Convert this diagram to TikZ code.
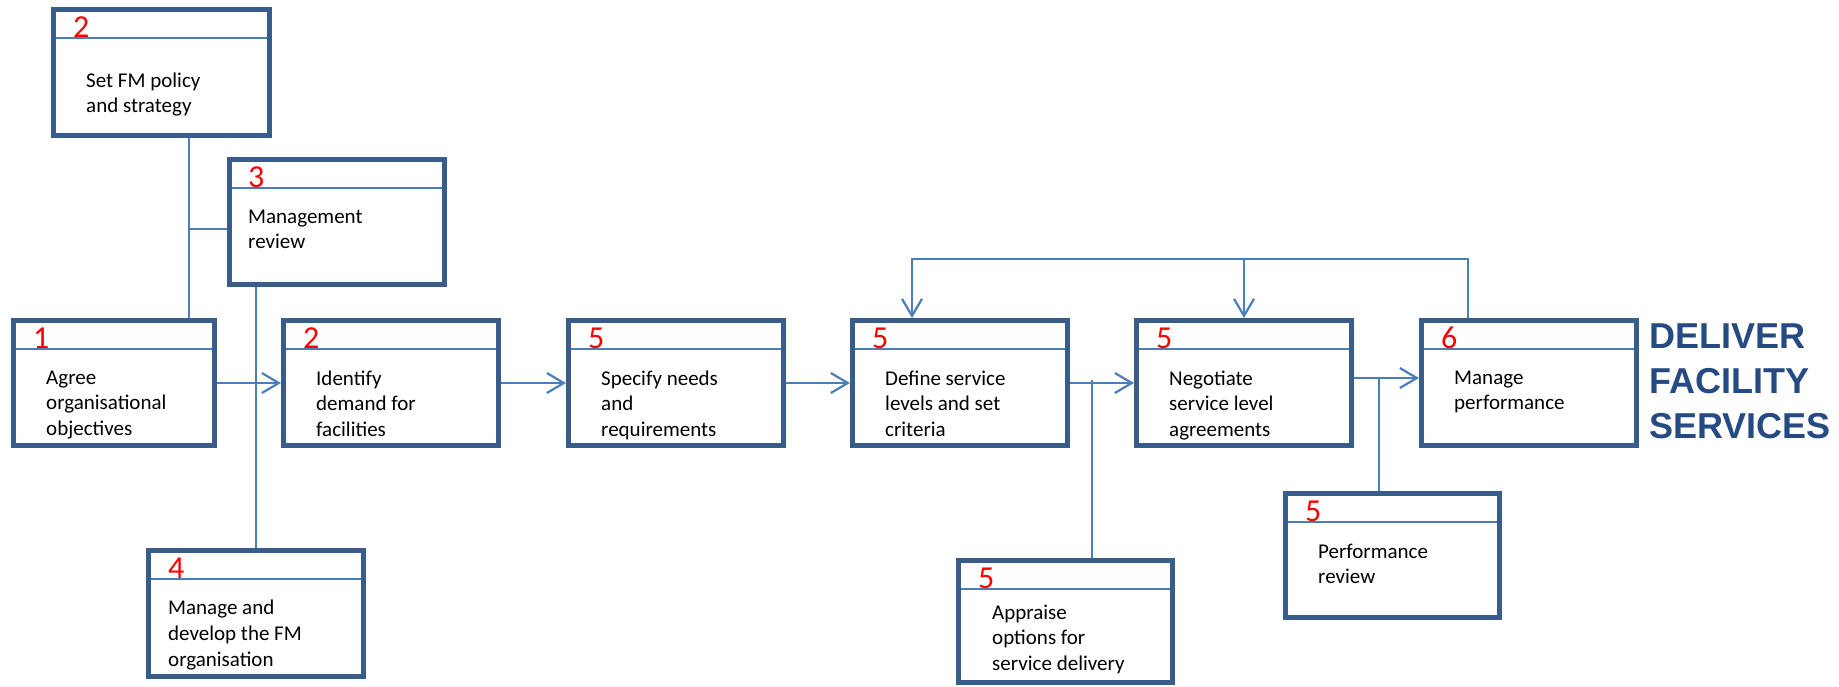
\documentclass[tikz,border=0pt]{standalone}
\usepackage{fontspec}
\setmainfont{Carlito}
\newfontfamily\headfont{Liberation Sans}
\usetikzlibrary{arrows.meta}
\definecolor{boxblue}{RGB}{56,93,138}
\definecolor{lineblue}{RGB}{74,126,187}
\definecolor{headblue}{RGB}{37,75,130}

\begin{document}
\begin{tikzpicture}[x=1pt,y=-1pt]
        \tikzstyle{box} = [draw=boxblue, line width=5pt, inner sep=0pt, anchor=north west, minimum width=215pt, minimum height=125pt,
            path picture={\draw[lineblue, line width=2pt] ([yshift=-28.5pt]path picture bounding box.north west) -- ([yshift=-28.5pt]path picture bounding box.north east);}]
        \tikzstyle{num} = [anchor=base west, inner sep=0pt, text=red, font=\fontsize{32}{32}\selectfont]
        \tikzstyle{txt} = [anchor=north west, inner sep=0pt, align=left, font=\fontsize{21}{25.7}\selectfont]
        \tikzstyle{link} = [lineblue, line width=2.2pt]
        \tikzstyle{arrow} = [link, -{Straight Barb[length=17pt, width=20pt]}]
        \useasboundingbox (0,0) rectangle (1839,686);
        % First box of the row is a bit narrower
        \node[box, minimum width=201pt] (agree) at (11,318) {};
        \node[num] (agree-num) at ([shift={(22pt,-30pt)}]agree.north west) {1};
        \node[txt] (agree-txt) at ([shift={(35pt,-52.5pt)}]agree.north west) {Agree\\organisational\\objectives};
        % The other boxes of the main row
        \foreach \name/\x/\n/\t in {identify/281/2/{Identify\\demand for\\facilities},
                                    specify/566/5/{Specify needs\\and\\requirements},
                                    define/850/5/{Define service\\levels and set\\criteria},
                                    negotiate/1134/5/{Negotiate\\service level\\agreements},
                                    perform/1419/6/{Manage\\performance}} {
            \node[box] (\name) at (\x,318) {};
            \node[num] (\name-num) at ([shift={(22pt,-30pt)}]\name.north west) {\n};
            \node[txt] (\name-txt) at ([shift={(35pt,-52.5pt)}]\name.north west) {\t};
        }
        % Policy and review boxes above the row
        \node[box, minimum width=216pt, minimum height=126pt] (policy) at (51,7) {};
        \node[num] (policy-num) at ([shift={(22pt,-30pt)}]policy.north west) {2};
        \node[txt] (policy-txt) at ([shift={(35pt,-65.5pt)}]policy.north west) {Set FM policy\\and strategy};
        \node[box] (review) at (227,157) {};
        \node[num] (review-num) at ([shift={(21pt,-30pt)}]review.north west) {3};
        \node[txt] (review-txt) at ([shift={(21pt,-52.5pt)}]review.north west) {Management\\review};
        % Boxes below the row
        \node[box, minimum height=126pt] (develop) at (146,548) {};
        \node[num] (develop-num) at ([shift={(22pt,-30pt)}]develop.north west) {4};
        \node[txt] (develop-txt) at ([shift={(22pt,-52pt)}]develop.north west) {Manage and\\develop the FM\\organisation};
        \node[box, minimum width=214pt, minimum height=122pt] (appraise) at (956,558) {};
        \node[num] (appraise-num) at ([shift={(22pt,-30pt)}]appraise.north west) {5};
        \node[txt] (appraise-txt) at ([shift={(36pt,-46.5pt)}]appraise.north west) {Appraise\\options for\\service delivery};
        \node[box, minimum width=214pt, minimum height=124pt] (perfreview) at (1283,491) {};
        \node[num] (perfreview-num) at ([shift={(22pt,-30pt)}]perfreview.north west) {5};
        \node[txt] (perfreview-txt) at ([shift={(35pt,-52.5pt)}]perfreview.north west) {Performance\\review};
        % Heading on the right
        \node[anchor=north west, inner sep=0pt, align=left, text=headblue, font=\headfont\bfseries\fontsize{36}{45}\selectfont] (deliver) at (1649,324) {DELIVER\\FACILITY\\SERVICES};
        % Lines from the policy and review boxes
        \coordinate (policyjoin) at (189,229);
        \draw[link] (policy.south -| policyjoin) -- (agree.north -| policyjoin);
        \draw[link] (policyjoin) -- (policyjoin -| review.west);
        \draw[link] (review.south -| develop.north) -- (develop.north);
        % Arrows along the row
        \draw[arrow] (agree.east) -- (identify.west);
        \draw[arrow] (identify.east) -- (specify.west);
        \draw[arrow] (specify.east) -- (define.west);
        \draw[arrow] (define.east) -- (negotiate.west);
        \draw[arrow] ([yshift=5pt]negotiate.east) -- ([yshift=5pt]perform.west);
        % Lines up from the lower boxes
        \coordinate (appraisejoin) at (1092,380);
        \draw[link] (appraisejoin) -- (appraisejoin |- appraise.north);
        \coordinate (reviewjoin) at (1379,378);
        \draw[link] (reviewjoin) -- (reviewjoin |- perfreview.north);
        % Feedback from performance back to the service levels
        \coordinate (fbleft) at (912,259);
        \coordinate (fbright) at (1468,259);
        \draw[arrow] (perform.north -| fbright) -- (fbright) -- (fbleft) -- (fbleft |- define.north);
        \draw[arrow] (negotiate.north |- fbright) -- (negotiate.north);
\end{tikzpicture}
\end{document}
